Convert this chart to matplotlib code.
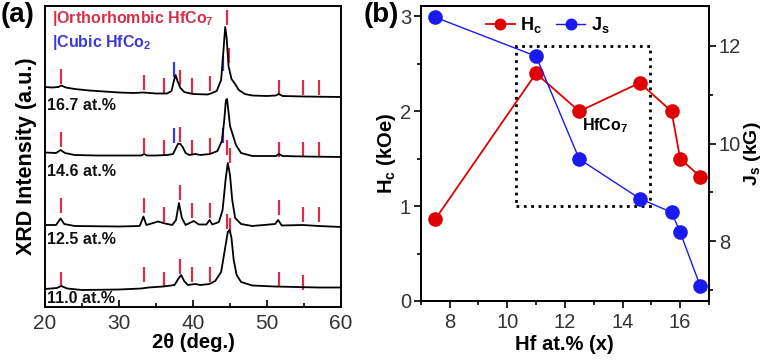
import matplotlib
matplotlib.use("Agg")
import matplotlib.pyplot as plt
from matplotlib.ticker import MultipleLocator
from matplotlib.patches import Rectangle

plt.rcParams['font.family'] = ['Liberation Sans', 'DejaVu Sans']
plt.rcParams['mathtext.fontset'] = 'custom'
plt.rcParams['mathtext.rm'] = 'Liberation Sans:bold'
plt.rcParams['mathtext.bf'] = 'Liberation Sans:bold'
plt.rcParams['mathtext.it'] = 'Liberation Sans:bold'
plt.rcParams['mathtext.default'] = 'rm'

# ---------------- Panel (a): XRD patterns (intensity in arbitrary units, stacked) ----------------
tth_167 = [20, 21, 21.8, 22.2, 22.8, 24, 26, 28, 30, 32, 33.3, 35, 36.5, 37.1, 37.45, 37.65, 37.9, 38.3, 38.8,
           40, 42, 42.4, 43.2, 43.8, 44.1, 44.35, 44.55, 44.8, 45.2, 45.6, 46.2, 47, 48, 50, 51.2, 51.6, 52.1, 55, 60]
int_167 = [220, 219.5, 220, 221.5, 219.5, 218, 216.5, 215.5, 214.5, 214, 214.5, 213.5, 213.5, 216, 227, 232, 226,
           219, 215, 213, 212.5, 213.5, 216, 227, 255, 280, 269, 241, 228, 224, 217, 213, 211.5, 211, 211.5, 213,
           211, 210.5, 210]

tth_146 = [20, 21.5, 22.1, 22.7, 24, 27, 30, 33, 33.4, 33.8, 35, 36.5, 37.3, 37.7, 38.0, 38.3, 38.6, 39, 39.5,
           40.3, 41, 42.3, 43.3, 43.9, 44.2, 44.45, 44.6, 44.8, 45.0, 45.3, 45.8, 46.5, 48, 51.2, 51.6, 52.1, 55, 60]
int_146 = [154.5, 154, 157, 154, 152, 151.5, 151.5, 151.5, 153, 151.5, 151.5, 152, 153, 159, 163.5, 163, 160, 154,
           152, 153, 152, 153, 156, 166, 185, 207, 208, 195, 181, 174, 162, 154, 151, 151, 153, 151, 150.5, 150]

tth_125 = [20, 21.5, 22.1, 22.6, 24, 30, 32.8, 33.3, 33.7, 35.3, 36.2, 37.2, 37.7, 38.1, 38.5, 39.0, 40.1, 40.8,
           41.8, 42.25, 42.6, 43.5, 44.0, 44.4, 44.7, 45.0, 45.3, 45.7, 46.5, 48, 51.1, 51.5, 52, 54.8, 57, 60]
int_125 = [82, 82, 88.5, 83, 81, 80.5, 81, 90.5, 82, 85.5, 83.5, 82, 87, 104, 89, 82, 86, 82.5, 82.5, 87, 82.5,
           85, 97, 127, 144, 132, 107, 89, 83, 81, 83, 87, 81.5, 82, 81, 80]

tth_110 = [20, 21.6, 22.2, 23, 25, 30, 33, 34, 36, 37.5, 38.0, 38.4, 38.8, 39.3, 40.3, 41, 42.2, 43, 43.8, 44.3,
           44.7, 44.95, 45.2, 45.5, 45.9, 46.5, 48, 51, 54, 57, 60]
int_110 = [18, 19, 21, 18.5, 17, 17.5, 18.5, 19.5, 20.5, 22, 28, 32, 26, 22, 23, 22, 23, 26, 35, 57, 75, 77, 69,
           47, 32, 25, 21.5, 20.5, 20, 19.5, 19.5]

sample_labels = ["16.7 at.%", "14.6 at.%", "12.5 at.%", "11.0 at.%"]
label_levels = [201, 136, 68, 1]

# reference peak markers (orthorhombic HfCo7 in red, cubic HfCo2 in blue)
ortho_167 = [22.1, 33.4, 36.1, 38.2, 39.9, 42.3, 44.6, 44.9, 51.6, 54.9, 57.0]
ortho_167_base = [223, 217, 214, 222, 214, 216, 282, 244, 212, 212, 212]
cubic_167 = [37.43, 44.1]
cubic_167_base = [230, 236]

ortho_146 = [22.1, 33.4, 36.1, 38.2, 39.9, 42.3, 44.55, 45.0, 51.6, 54.9, 57.0]
ortho_146_base = [160, 154, 152, 165, 152, 154, 152, 144, 150, 150, 150]
cubic_146 = [37.43, 44.0]
cubic_146_base = [164, 164]

ortho_125 = [22.1, 33.4, 36.1, 38.2, 39.9, 42.3, 44.55, 45.0, 51.6, 54.9, 57.0]
ortho_125_base = [94, 94, 85, 107, 89, 89, 78, 74, 92, 85, 85]

ortho_110 = [22.1, 33.4, 36.1, 38.2, 39.9, 42.3, 51.6, 54.9]
ortho_110_base = [20, 25, 20, 33, 25, 25, 20, 17]

# ---------------- Panel (b): magnetic properties ----------------
hf_x = [7.5, 11.0, 12.5, 14.6, 15.7, 16.0, 16.7]
hc_koe = [0.86, 2.40, 2.00, 2.30, 2.00, 1.50, 1.31]
js_kg = [12.59, 11.79, 9.68, 8.87, 8.59, 8.18, 7.07]

RED = '#e00000'
BLUE = '#1a1af0'
TICK_RED = '#d4304a'
TICK_BLUE = '#3a3ad8'

fig = plt.figure(figsize=(7.62, 3.60), dpi=100)

# ---- panel a ----
axa = fig.add_axes([45/762, 1-307/360, (341-45)/762, (307-6)/360])
for tt, ii in [(tth_167, int_167), (tth_146, int_146), (tth_125, int_125), (tth_110, int_110)]:
    axa.plot(tt, ii, color='black', lw=1.3, zorder=3)

tick_len = 15
for pos, base in [(ortho_167, ortho_167_base), (ortho_146, ortho_146_base),
                  (ortho_125, ortho_125_base), (ortho_110, ortho_110_base)]:
    axa.vlines(pos, base, [b + tick_len for b in base], color=TICK_RED, lw=1.6, zorder=2)
for pos, base in [(cubic_167, cubic_167_base), (cubic_146, cubic_146_base)]:
    axa.vlines(pos, base, [b + tick_len for b in base], color=TICK_BLUE, lw=1.6, zorder=2)

for lab, lev in zip(sample_labels, label_levels):
    axa.text(20.3, lev, lab, fontsize=11.5, fontweight='bold', va='bottom' if lev < 5 else 'center',
             ha='left', color='#111111')

axa.text(21.0, 289, "|Orthorhombic HfCo$_7$", color=TICK_RED, fontsize=11.5, fontweight='bold',
         va='center', ha='left')
axa.text(21.0, 265, "|Cubic HfCo$_2$", color=TICK_BLUE, fontsize=11.5, fontweight='bold',
         va='center', ha='left')

axa.set_xlim(20, 60)
axa.set_ylim(0, 301)
axa.set_yticks([])
axa.xaxis.set_major_locator(MultipleLocator(10))
axa.xaxis.set_minor_locator(MultipleLocator(5))
axa.tick_params(axis='x', which='both', direction='in', top=False, labelsize=15, width=1.2, pad=5,
                labelcolor='#333333')
axa.tick_params(axis='x', which='major', length=5)
axa.tick_params(axis='x', which='minor', length=3)
axa.set_xlabel("2θ (deg.)", fontsize=14.5, fontweight='bold', labelpad=0)
axa.set_ylabel("XRD Intensity (a.u.)", fontsize=15.5, fontweight='bold', labelpad=6)
for s in axa.spines.values():
    s.set_linewidth(1.4)

# ---- panel b ----
axb = fig.add_axes([420.7/762, 1-301/360, (709-420.7)/762, (301-6)/360])
axb.plot(hf_x, hc_koe, color=RED, lw=1.3, marker='o', ms=9.5, mfc=RED, mec=RED, label="H$_c$")
axb.set_xlim(7, 17)
axb.set_ylim(0, 3.11)
axb.xaxis.set_major_locator(MultipleLocator(2))
axb.xaxis.set_minor_locator(MultipleLocator(1))
axb.yaxis.set_major_locator(MultipleLocator(1))
axb.yaxis.set_minor_locator(MultipleLocator(0.5))
axb.tick_params(which='both', direction='out', labelsize=14.5, width=1.2, labelcolor='#333333')
axb.tick_params(axis='y', pad=2)
axb.tick_params(which='major', length=5)
axb.tick_params(which='minor', length=3)
axb.set_xlabel("Hf at.% (x)", fontsize=14.5, fontweight='bold', labelpad=2)
axb.set_ylabel("H$_c$ (kOe)", fontsize=14.5, fontweight='bold', labelpad=1)
axb.add_patch(Rectangle((10.32, 1.0), 4.64, 1.69, fill=False, ls=':', lw=2, ec='black', zorder=1))
axb.text(12.6, 1.85, "HfCo$_7$", fontsize=11.5, fontweight='bold', va='center', ha='left')

ax2 = axb.twinx()
ax2.plot(hf_x, js_kg, color=BLUE, lw=1.0, marker='o', ms=9.5, mfc=BLUE, mec=BLUE, label="J$_s$")
ax2.set_ylim(6.77, 12.82)
ax2.yaxis.set_major_locator(MultipleLocator(2))
ax2.yaxis.set_minor_locator(MultipleLocator(1))
ax2.tick_params(which='both', direction='out', labelsize=14.5, width=1.2, pad=2, labelcolor='#333333')
ax2.tick_params(which='major', length=5)
ax2.tick_params(which='minor', length=3)
ax2.set_ylabel("J$_s$ (kG)", fontsize=14, fontweight='bold', labelpad=1)
for ax in (axb, ax2):
    for s in ax.spines.values():
        s.set_linewidth(1.4)

h1, l1 = axb.get_legend_handles_labels()
h2, l2 = ax2.get_legend_handles_labels()
ax2.legend(h1 + h2, l1 + l2, loc='upper center', bbox_to_anchor=(0.44, 1.0), ncol=2, frameon=False,
           prop={'weight': 'bold', 'size': 13}, markerscale=0.8, handlelength=1.6,
           columnspacing=0.8, handletextpad=0.3, borderaxespad=0.1)

fig.text(1/762, 1-2/360, "(a)", fontsize=20, fontweight='bold', va='top', ha='left')
fig.text(399/762, 1-2/360, "(b)", fontsize=20, fontweight='bold', va='top', ha='right')

fig.savefig("out.png", dpi=100)
